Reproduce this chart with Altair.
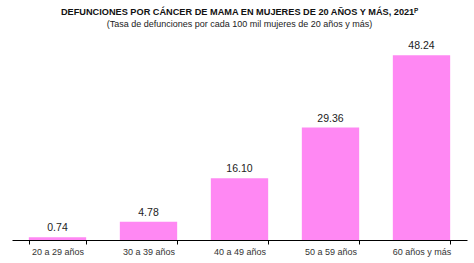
import altair as alt
import pandas as pd

categories = ["20 a 29 años", "30 a 39 años", "40 a 49 años", "50 a 59 años", "60 años y más"]
values = [0.74, 4.78, 16.10, 29.36, 48.24]
labels = ["0.74", "4.78", "16.10", "29.36", "48.24"]

df = pd.DataFrame({"grupo": categories, "tasa": values, "label": labels})

x = alt.X("grupo:N", sort=categories, title=None,
          scale=alt.Scale(paddingInner=0.37, paddingOuter=0.185),
          axis=alt.Axis(labelAngle=0, labelFontSize=9, labelColor="#333333",
                        labelFont="Liberation Sans", domainColor="#000000",
                        tickColor="#000000", tickBand="extent", tickSize=4,
                        labelPadding=3, domainWidth=1))
y = alt.Y("tasa:Q", scale=alt.Scale(domain=[0, 52.2], nice=False), axis=None)

bars = alt.Chart(df).mark_bar(color="#FF88F3").encode(x=x, y=y)
text = alt.Chart(df).mark_text(dy=-9, fontSize=10.5, font="Liberation Sans",
                               color="#222222").encode(x=x, y=y, text="label:N")

chart = (bars + text).properties(
    width=455, height=200,
    title=alt.TitleParams(
        text="DEFUNCIONES POR CÁNCER DE MAMA EN MUJERES DE 20 AÑOS Y MÁS, 2021ᴾ",
        subtitle="(Tasa de defunciones por cada 100 mil mujeres de 20 años y más)",
        font="Liberation Sans", fontSize=9.2, fontWeight="bold", color="#111111",
        subtitleFont="Liberation Sans", subtitleFontSize=9, subtitleColor="#222222",
        subtitlePadding=3, anchor="middle", offset=11),
    autosize=alt.AutoSizeParams(type="none"),
    padding={"left": 12, "top": 40, "right": 7, "bottom": 23},
).configure_view(stroke=None)

chart.save("out.html", embed_options={"renderer": "svg", "actions": False})
